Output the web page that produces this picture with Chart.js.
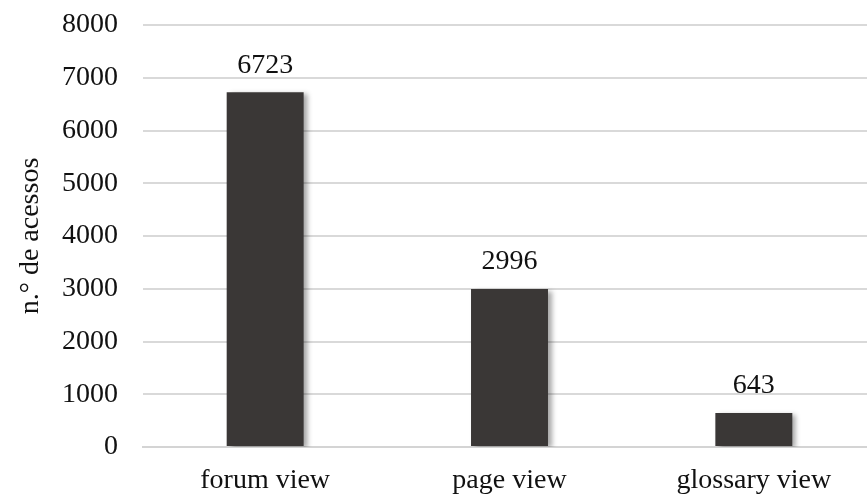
<!DOCTYPE html>
<html>
<head>
<meta charset="utf-8">
<script src="https://cdn.jsdelivr.net/npm/chart.js@4.4.1/dist/chart.umd.min.js"></script>
<style>
  html, body { margin: 0; padding: 0; background: #fff; overflow: hidden; }
  #wrap { width: 876px; height: 494px; }
</style>
</head>
<body>
<div id="wrap"><canvas id="chart" width="876" height="494"></canvas></div>
<script>
const categories = ['forum view', 'page view', 'glossary view']
const accessCounts = [6723, 2996, 643]
const yTicks = [0, 1000, 2000, 3000, 4000, 5000, 6000, 7000, 8000]

const serif = '"Liberation Serif", "Times New Roman", serif'

// shadow to the lower right of each bar, like the office chart
const barShadow = {
	id: 'barShadow',
	beforeDatasetsDraw(chart) {
		const ctx = chart.ctx
		ctx.save()
		ctx.shadowColor = 'rgba(0,0,0,0.35)'
		ctx.shadowOffsetX = 4
		ctx.shadowOffsetY = 2
		ctx.shadowBlur = 5
	},
	afterDatasetsDraw(chart) {
		chart.ctx.restore()
	}
}

// value printed over every bar
const valueLabels = {
	id: 'valueLabels',
	afterDraw(chart) {
		const ctx = chart.ctx
		const meta = chart.getDatasetMeta(0)
		ctx.save()
		ctx.font = '28px ' + serif
		ctx.fillStyle = '#111'
		ctx.textAlign = 'center'
		ctx.textBaseline = 'bottom'
		meta.data.forEach((bar, i) => {
			ctx.fillText(String(accessCounts[i]), bar.x, bar.y - 13)
		})
		ctx.restore()
	}
}

new Chart(document.getElementById('chart'), {
	type: 'bar',
	data: {
		labels: categories,
		datasets: [{
			data: accessCounts,
			backgroundColor: '#3a3736',
			borderWidth: 0,
			barPercentage: 0.315,
			categoryPercentage: 1
		}]
	},
	options: {
		responsive: false,
		animation: false,
		layout: { padding: { top: 25, right: 0, bottom: 0, left: 0 } },
		plugins: {
			legend: { display: false },
			tooltip: { enabled: false }
		},
		scales: {
			x: {
				afterFit(scale) {
					scale.height = 47
				},
				grid: { display: false, drawTicks: false },
				border: { display: true, color: '#d4d4d4', width: 2 },
				ticks: { color: '#111', font: { family: serif, size: 28 }, padding: 17, maxRotation: 0 }
			},
			y: {
				min: 0,
				max: 8000,
				afterBuildTicks(scale) {
					scale.ticks = yTicks.map(v => ({ value: v }))
				},
				afterFit(scale) {
					scale.width = 143
					scale.paddingTop = 0
					scale.paddingBottom = 0
				},
				grid: { color: '#d9d9d9', lineWidth: 2, drawTicks: false },
				border: { display: false },
				ticks: {
					color: '#111',
					font: { family: serif, size: 28 },
					padding: 25,
					callback: v => String(v)
				},
				title: {
					display: true,
					text: 'n.° de acessos',
					color: '#111',
					font: { family: serif, size: 28 },
					padding: { top: 14, bottom: 0 }
				}
			}
		}
	},
	plugins: [barShadow, valueLabels]
})
</script>
</body>
</html>
